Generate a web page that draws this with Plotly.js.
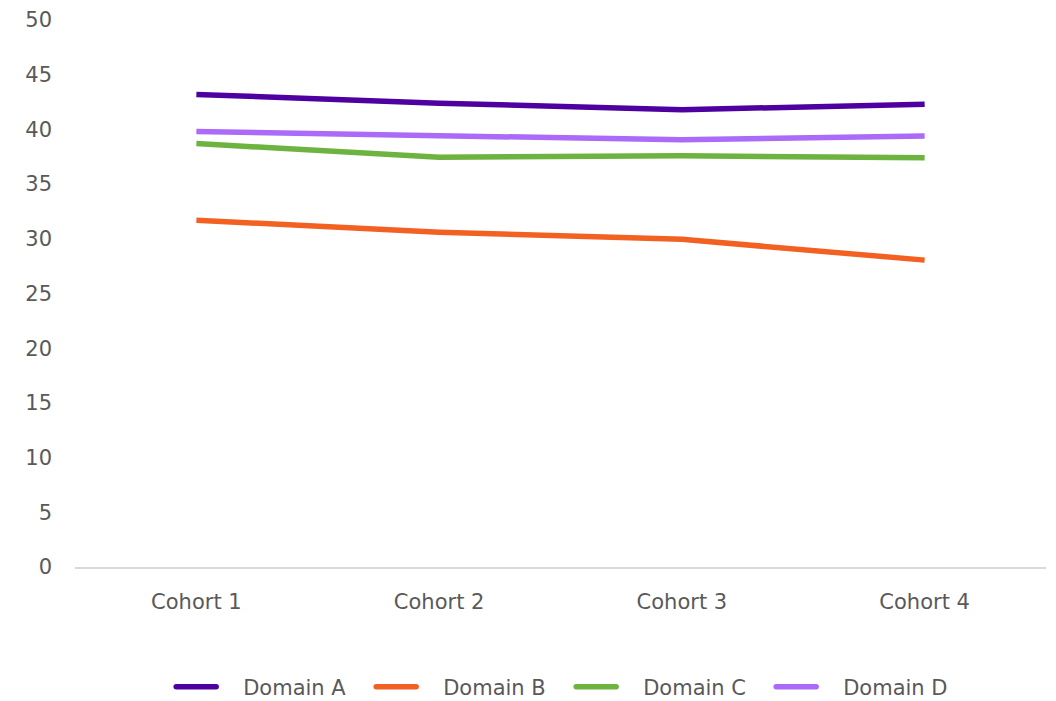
<!DOCTYPE html>
<html>
<head>
<meta charset="utf-8">
<script src="https://cdn.plot.ly/plotly-3.0.1.min.js"></script>
<style>html,body{margin:0;padding:0;background:#fff;}#chart{width:1056px;height:701px;}</style>
</head>
<body>
<div id="chart"></div>
<script>
const categories = ["Cohort 1", "Cohort 2", "Cohort 3", "Cohort 4"];
const seriesNames = ["Domain A", "Domain B", "Domain C", "Domain D"];
const domainA = [43.2, 42.4, 41.8, 42.3];
const domainB = [31.7, 30.6, 29.95, 28.05];
const domainC = [38.7, 37.45, 37.6, 37.4];
const domainD = [39.8, 39.4, 39.05, 39.4];
const colors = ["#4F00A0", "#F26122", "#6CB33F", "#AB6AF7"];
const yTicks = [0, 5, 10, 15, 20, 25, 30, 35, 40, 45, 50];

const allValues = [domainA, domainB, domainC, domainD];
const font = "DejaVu Sans, Verdana, sans-serif";
const traces = allValues.map((vals, i) => ({
  type: "scatter",
  mode: "lines",
  name: seriesNames[i],
  x: categories,
  y: vals,
  line: {color: colors[i], width: 5.5},
  hoverinfo: "x+y+name"
}));

const layout = {
  width: 1056,
  height: 701,
  margin: {l: 75, r: 10, t: 20, b: 134},
  paper_bgcolor: "#ffffff",
  plot_bgcolor: "#ffffff",
  showlegend: true,
  font: {family: font, color: "#595959", size: 21},
  xaxis: {
    type: "category",
    range: [-0.5, 3.5],
    showgrid: false,
    zeroline: false,
    showline: true,
    linecolor: "#D9D9D9",
    linewidth: 1.5,
    ticks: "",
    ticklabelstandoff: 15,
    tickfont: {family: font, size: 21, color: "#595959"},
    fixedrange: true
  },
  yaxis: {
    range: [0, 50],
    tickvals: yTicks,
    ticktext: yTicks.map(String),
    showgrid: false,
    zeroline: false,
    showline: false,
    ticks: "",
    ticklabelstandoff: 22,
    tickfont: {family: font, size: 21, color: "#595959"},
    fixedrange: true
  },
  legend: {
    orientation: "h",
    x: 0.511,
    xanchor: "center",
    xref: "paper",
    yref: "container",
    y: 0.02,
    yanchor: "middle",
    font: {family: font, size: 21, color: "#595959"},
    itemwidth: 62,
    entrywidth: 123,
    entrywidthmode: "pixels",
    tracegroupgap: 0
  }
};

Plotly.newPlot("chart", traces, layout, {displayModeBar: false, staticPlot: true}).then(gd => {
  gd.querySelectorAll(".legend .legendlines path").forEach(p => {
    p.setAttribute("d", "M5,0h40");
    p.style.strokeLinecap = "round";
  });
});
</script>
</body>
</html>
